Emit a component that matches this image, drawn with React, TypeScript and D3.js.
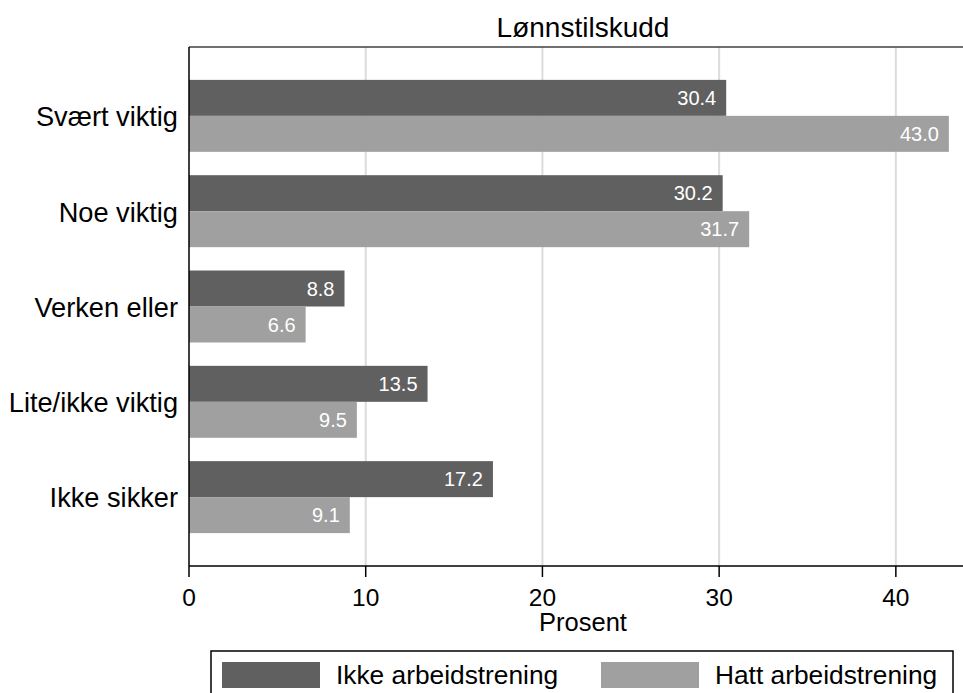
import React from "react";
import * as d3 from "d3";

const categories = ["Svært viktig", "Noe viktig", "Verken eller", "Lite/ikke viktig", "Ikke sikker"];
const ikkeArbeidstrening = [30.4, 30.2, 8.8, 13.5, 17.2];
const hattArbeidstrening = [43.0, 31.7, 6.6, 9.5, 9.1];
const seriesNames = ["Ikke arbeidstrening", "Hatt arbeidstrening"];
const xTicks = [0, 10, 20, 30, 40];
const title = "Lønnstilskudd";
const xLabel = "Prosent";

const W = 963;
const H = 693;
const colors = ["#606060", "#a0a0a0"];
const font = "'Liberation Sans', Arial, Helvetica, sans-serif";

export default function App() {
  const left = 189;
  const right = 963;
  const top = 47;
  const bottom = 566;

  const x = d3.scaleLinear().domain([0, 43.8]).range([left, right]);
  const y = d3
    .scaleBand<string>()
    .domain(categories)
    .range([top, bottom])
    .paddingInner(0.245)
    .paddingOuter(0.345);
  const sub = d3.scaleBand<number>().domain([0, 1]).range([0, y.bandwidth()]);
  const series = [ikkeArbeidstrening, hattArbeidstrening];

  return (
    <svg
      width={W}
      height={H}
      style={{ position: "absolute", left: 0, top: 0, background: "#fff" }}
      fontFamily={font}
    >
      <rect x={0} y={0} width={W} height={H} fill="#fff" />
      {/* gridlines */}
      {xTicks.slice(1).map((t) => (
        <line key={t} x1={x(t)} x2={x(t)} y1={top} y2={bottom} stroke="#dcdcdc" strokeWidth={2} />
      ))}
      {/* bars */}
      {categories.map((c, i) =>
        series.map((s, k) => {
          const y0 = (y(c) as number) + (sub(k) as number);
          const h = sub.bandwidth();
          return (
            <g key={c + k}>
              <rect x={x(0)} y={y0} width={x(s[i]) - x(0)} height={h} fill={colors[k]} />
              <text
                x={x(s[i]) - 10}
                y={y0 + h / 2}
                dy="0.36em"
                textAnchor="end"
                fill="#fff"
                fontSize={20}
              >
                {s[i].toFixed(1)}
              </text>
            </g>
          );
        })
      )}
      {/* frame */}
      <line x1={left} x2={right} y1={top} y2={top} stroke="#404040" strokeWidth={1.5} />
      <line x1={left} x2={left} y1={top} y2={bottom} stroke="#000" strokeWidth={1.5} />
      <line x1={left} x2={right} y1={bottom} y2={bottom} stroke="#000" strokeWidth={1.5} />
      {/* x ticks */}
      {xTicks.map((t) => (
        <g key={t}>
          <line x1={x(t)} x2={x(t)} y1={bottom} y2={577} stroke="#000" strokeWidth={1.5} />
          <text x={x(t)} y={606} textAnchor="middle" fontSize={24.5} fill="#000">
            {t}
          </text>
        </g>
      ))}
      <text x={583} y={631} textAnchor="middle" fontSize={25.5} fill="#000">
        {xLabel}
      </text>
      {/* category labels */}
      {categories.map((c) => (
        <text
          key={c}
          x={178}
          y={(y(c) as number) + y.bandwidth() / 2}
          dy="0.38em"
          textAnchor="end"
          fontSize={27.2}
          fill="#000"
        >
          {c}
        </text>
      ))}
      {/* title */}
      <text x={583} y={37} textAnchor="middle" fontSize={28} fill="#000">
        {title}
      </text>
      {/* legend */}
      <rect x={211} y={651} width={742} height={45} fill="#fff" stroke="#000" strokeWidth={1.5} />
      {seriesNames.map((n, k) => {
        const sx = k === 0 ? 222 : 601;
        return (
          <g key={n}>
            <rect x={sx} y={662} width={98} height={26} fill={colors[k]} />
            <text x={sx + 114} y={684} fontSize={26.3} fill="#000">
              {n}
            </text>
          </g>
        );
      })}
    </svg>
  );
}
